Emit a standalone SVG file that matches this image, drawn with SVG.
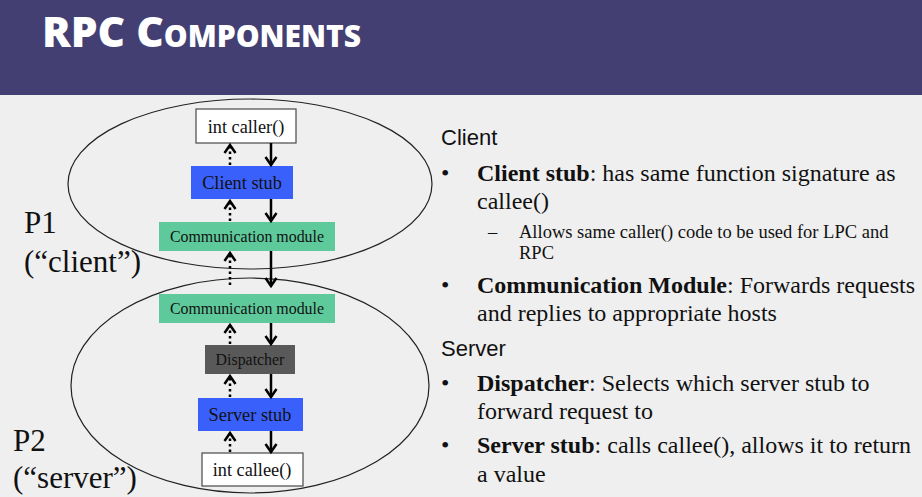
<svg xmlns="http://www.w3.org/2000/svg" width="922" height="497" viewBox="0 0 922 497">
<defs>
<style>
.box{font-family:"Liberation Serif",serif;text-anchor:middle;fill:#111}
.rt{font-family:"Liberation Serif",serif;font-size:24px;fill:#111}
.hd{font-family:"Liberation Sans",sans-serif;font-size:22px;fill:#111}
.sub{font-family:"Liberation Serif",serif;font-size:18.5px;fill:#111}
.lbl{font-family:"Liberation Serif",serif;font-size:31px;fill:#111}
.ell{fill:none;stroke:#222;stroke-width:1.2}
.req{stroke:#000;stroke-width:2.5;fill:none;marker-end:url(#head)}
.rep{stroke:#000;stroke-width:2.5;fill:none;stroke-dasharray:2.5 3;marker-end:url(#head)}
</style>
<marker id="head" markerUnits="userSpaceOnUse" markerWidth="14" markerHeight="14" refX="9" refY="7" orient="auto">
<path d="M1,1.5 L9,7 L1,12.5" fill="none" stroke="#000" stroke-width="2.5"/>
</marker>
</defs>
<rect width="922" height="497" fill="#efefef"/>
<rect width="922" height="95" fill="#433f73"/>
<text x="42" y="47" font-family="'Open Sans','Lato',sans-serif" font-weight="800" font-size="42.5" fill="#fff" style="font-variant:small-caps">RPC Components</text>

<g id="process-p1">
<ellipse class="ell" cx="250" cy="184" rx="182" ry="85"/>
<text class="lbl" x="24" y="233">P1</text>
<text class="lbl" x="24" y="272">(“client”)</text>
</g>
<g id="process-p2">
<ellipse class="ell" cx="250" cy="385.5" rx="179" ry="107.5"/>
<text class="lbl" x="13" y="451">P2</text>
<text class="lbl" x="13" y="488">(“server”)</text>
</g>

<g id="caller">
<rect x="196" y="109" width="100" height="34" fill="#fff" stroke="#555" stroke-width="1.3"/>
<text class="box" x="246" y="133" font-size="18.3">int caller()</text>
</g>
<g id="client-stub">
<rect x="191" y="166" width="102" height="33" fill="#3a60fb"/>
<text class="box" x="242" y="189" font-size="18.3">Client stub</text>
</g>
<g id="comm-client">
<rect x="159" y="222" width="176" height="29" fill="#5ec99b"/>
<text class="box" x="247" y="242" font-size="15.9">Communication module</text>
</g>
<g id="comm-server">
<rect x="159" y="294" width="176" height="29" fill="#5ec99b"/>
<text class="box" x="247" y="314" font-size="15.9">Communication module</text>
</g>
<g id="dispatcher">
<rect x="205" y="345" width="90" height="29" fill="#595959"/>
<text class="box" x="250" y="365" font-size="15.9">Dispatcher</text>
</g>
<g id="server-stub">
<rect x="198" y="398" width="105" height="33" fill="#3a60fb"/>
<text class="box" x="250" y="421" font-size="18.3">Server stub</text>
</g>
<g id="callee">
<rect x="202" y="453" width="101" height="33" fill="#fff" stroke="#555" stroke-width="1.3"/>
<text class="box" x="252" y="476" font-size="18.3">int callee()</text>
</g>

<g id="connectors">
<line class="req" x1="271" y1="143" x2="271" y2="165"/>
<line class="req" x1="271" y1="199" x2="271" y2="221"/>
<line class="req" x1="271" y1="251" x2="271" y2="286"/>
<line class="req" x1="271" y1="323" x2="271" y2="344"/>
<line class="req" x1="271" y1="374" x2="271" y2="397"/>
<line class="req" x1="271" y1="431" x2="271" y2="452"/>
<line class="rep" x1="230" y1="165" x2="230" y2="145"/>
<line class="rep" x1="230" y1="221" x2="230" y2="201"/>
<line class="rep" x1="230" y1="285" x2="230" y2="253"/>
<line class="rep" x1="230" y1="344" x2="230" y2="325"/>
<line class="rep" x1="230" y1="397" x2="230" y2="376"/>
<line class="rep" x1="230" y1="452" x2="230" y2="433"/>
</g>

<g id="notes">
<text class="hd" x="441" y="145">Client</text>
<text class="rt" x="441" y="181">•</text>
<text class="rt" x="477" y="181"><tspan font-weight="bold">Client stub</tspan>: has same function signature as</text>
<text class="rt" x="477" y="209">callee()</text>
<text class="sub" x="488" y="238">–</text>
<text class="sub" x="519" y="238">Allows same caller() code to be used for LPC and</text>
<text class="sub" x="519" y="259">RPC</text>
<text class="rt" x="441" y="293">•</text>
<text class="rt" x="477" y="293"><tspan font-weight="bold">Communication Module</tspan>: Forwards requests</text>
<text class="rt" x="477" y="321">and replies to appropriate hosts</text>
<text class="hd" x="441" y="356">Server</text>
<text class="rt" x="441" y="391">•</text>
<text class="rt" x="477" y="391"><tspan font-weight="bold">Dispatcher</tspan>: Selects which server stub to</text>
<text class="rt" x="477" y="419">forward request to</text>
<text class="rt" x="441" y="453">•</text>
<text class="rt" x="477" y="453"><tspan font-weight="bold">Server stub</tspan>: calls callee(), allows it to return</text>
<text class="rt" x="477" y="482">a value</text>
</g>
</svg>
